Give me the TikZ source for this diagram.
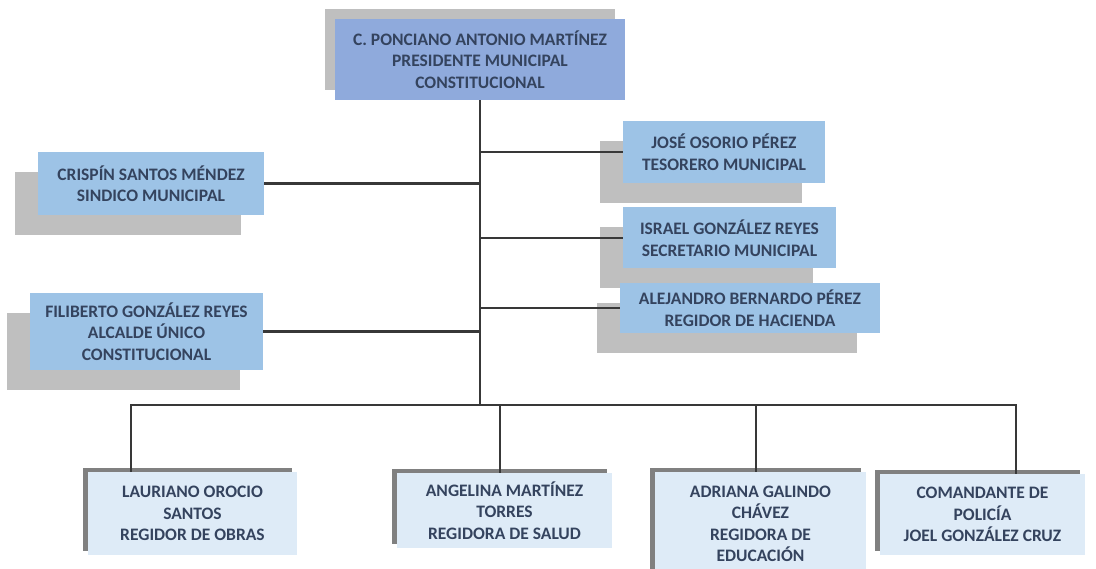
\documentclass[tikz,border=0pt]{standalone}
\usepackage{fontspec}
\setmainfont{Carlito}
\usepackage{xcolor}
\definecolor{top-blue}{HTML}{8FAADC}
\definecolor{side-blue}{HTML}{9DC3E6}
\definecolor{pale-blue}{HTML}{DEEBF7}
\definecolor{shade-grey}{HTML}{BFBFBF}
\definecolor{dark-grey}{HTML}{808080}
\definecolor{ink}{HTML}{34435E}
\usepackage{tikz}
\usetikzlibrary{shadows}
\tikzset{headbox/.style = {fill=top-blue, align=center, text=ink, inner sep=0pt, general shadow={fill=shade-grey, shadow xshift=-10pt, shadow yshift=10pt}}}
\tikzset{sidebox/.style = {fill=side-blue, align=center, text=ink, inner sep=0pt, general shadow={fill=shade-grey, shadow xshift=-23pt, shadow yshift=-20pt}}}
\tikzset{lowbox/.style = {fill=pale-blue, align=center, text=ink, inner sep=0pt, general shadow={fill=dark-grey, shadow xshift=-5pt, shadow yshift=4pt}}}
\tikzset{link/.style = {line width=2.4pt, draw=black!78}}

\begin{document}
\begin{tikzpicture}[x=1pt, y=-1pt,
  font=\fontsize{17.5}{21.5}\selectfont\bfseries
]
\useasboundingbox (0,0) rectangle (1096,569);

\node[headbox, minimum width=290pt, minimum height=81pt] (b0) at (480,59.5) {
  C. PONCIANO ANTONIO MARTÍNEZ\\
  PRESIDENTE MUNICIPAL\\
  CONSTITUCIONAL
};
\node[sidebox, minimum width=226pt, minimum height=63pt] (b1) at (151,183.5) {
  CRISPÍN SANTOS MÉNDEZ\\
  SINDICO MUNICIPAL
};
\node[sidebox, minimum width=202pt, minimum height=62pt] (b2) at (724,152) {
  JOSÉ OSORIO PÉREZ\\
  TESORERO MUNICIPAL
};
\node[sidebox, minimum width=213pt, minimum height=61pt] (b3) at (729.5,238) {
  ISRAEL GONZÁLEZ REYES\\
  SECRETARIO MUNICIPAL
};
\node[sidebox, minimum width=260pt, minimum height=50pt] (b4) at (750,308) {
  ALEJANDRO BERNARDO PÉREZ\\
  REGIDOR DE HACIENDA
};
\node[sidebox, minimum width=233pt, minimum height=77pt] (b5) at (146.5,331.5) {
  FILIBERTO GONZÁLEZ REYES\\
  ALCALDE ÚNICO\\
  CONSTITUCIONAL
};
\node[lowbox, minimum width=209pt, minimum height=83pt] (b6) at (192.5,513.5) {
  LAURIANO OROCIO\\
  SANTOS\\
  REGIDOR DE OBRAS
};
\node[lowbox, minimum width=215pt, minimum height=75pt] (b7) at (504.5,510.5) {
  ANGELINA MARTÍNEZ\\
  TORRES\\
  REGIDORA DE SALUD
};
\node[lowbox, minimum width=211pt, minimum height=104pt] (b8) at (760.5,524) {
  ADRIANA GALINDO\\
  CHÁVEZ\\
  REGIDORA DE\\
  EDUCACIÓN
};
\node[lowbox, minimum width=205pt, minimum height=81pt] (b9) at (982.5,514.5) {
  COMANDANTE DE\\
  POLICÍA\\
  JOEL GONZÁLEZ CRUZ
};
\coordinate (bus) at (480,405);

\draw[link] (b0) -- (bus);
\draw[link] (b1.east) -- (b1.east -| b0.south);
\draw[link] (b2.west) -- (b2.west -| b0.south);
\draw[link] (b3.west) -- (b3.west -| b0.south);
\draw[link] (b4.west) -- (b4.west -| b0.south);
\draw[link] (b5.east) -- (b5.east -| b0.south);
\draw[link] (bus) -| ([xshift=-61.5pt]b6.north);
\draw[link] (bus) -| ([xshift=-4.5pt]b7.north);
\draw[link] (bus) -| ([xshift=-4.5pt]b8.north);
\draw[link] (bus) -| ([xshift=33.5pt]b9.north);

\end{tikzpicture}
\end{document}
